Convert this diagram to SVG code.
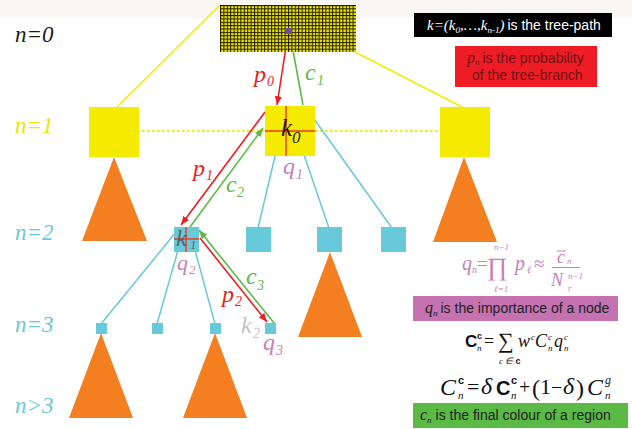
<svg xmlns="http://www.w3.org/2000/svg" width="632" height="429" viewBox="0 0 632 429">
<style>
.lv{font-family:"Liberation Serif",serif;font-style:italic;font-size:23px}
.it{font-family:"Liberation Serif",serif;font-style:italic}
.sr{font-family:"Liberation Serif","DejaVu Serif",serif}
.sa{font-family:"Liberation Sans",Arial,sans-serif;font-size:14px}
.sb{font-family:"Liberation Sans",Arial,sans-serif;font-weight:bold}
.yel{fill:#f4eb00}
.org{fill:#f47f20}
.cy{fill:#68c9da}
.cyl{stroke:#68c9da;stroke-width:1.5;fill:none}
.rd{stroke:#ee1d24;stroke-width:1.6;fill:none}
.gr{stroke:#5cb947;stroke-width:1.6;fill:none}
.cross{stroke:#ee3a24;stroke-width:1.5}
.pk{fill:#c87fb9}
</style>
<defs>
<pattern id="mesh" x="220" y="5" width="3.4" height="3.36" patternUnits="userSpaceOnUse">
<rect width="3.4" height="3.36" fill="#f3e800"/>
<rect width="1" height="3.36" fill="#1c1a00"/>
<rect width="3.4" height="1" fill="#1c1a00"/>
</pattern>
<marker id="ar" viewBox="0 0 10 8" refX="10" refY="4" markerWidth="9" markerHeight="7" orient="auto" markerUnits="userSpaceOnUse"><path d="M0,0 L10,4 L0,8 Z" fill="#ee1d24"/></marker>
<marker id="ag" viewBox="0 0 10 8" refX="10" refY="4" markerWidth="9" markerHeight="7" orient="auto" markerUnits="userSpaceOnUse"><path d="M0,0 L10,4 L0,8 Z" fill="#5cb947"/></marker>
</defs>
<rect x="0" y="0" width="632" height="18" fill="#f8f7f3"/>

<g id="levels">
<text class="lv" x="15" y="42" fill="#1a1a1a">n=0</text>
<text class="lv" x="15" y="133" fill="#efe200">n=1</text>
<text class="lv" x="15" y="240" fill="#68c9da">n=2</text>
<text class="lv" x="15" y="332" fill="#68c9da">n=3</text>
<text class="lv" x="15" y="413" fill="#68c9da">n&gt;3</text>
</g>

<g id="connectors">
<line x1="220" y1="5" x2="117" y2="107" stroke="#f4eb00" stroke-width="1.5"/>
<line x1="355" y1="52" x2="462" y2="107" stroke="#f4eb00" stroke-width="1.5"/>
<line x1="142" y1="131" x2="265" y2="131" stroke="#f4eb00" stroke-width="2" stroke-dasharray="2.5,2.5"/>
<line x1="315" y1="131" x2="440" y2="131" stroke="#f4eb00" stroke-width="2" stroke-dasharray="2.5,2.5"/>
<line class="cyl" x1="276" y1="152" x2="258" y2="228"/>
<line class="cyl" x1="303" y1="152" x2="329" y2="228"/>
<line class="cyl" x1="312" y1="116" x2="392" y2="228"/>
<line class="cyl" x1="176" y1="232" x2="101" y2="324"/>
<line class="cyl" x1="178" y1="250" x2="157" y2="324"/>
<line class="cyl" x1="195" y1="250" x2="215" y2="324"/>
<line class="rd" x1="288" y1="34" x2="277" y2="105" marker-end="url(#ar)"/>
<line class="gr" x1="303" y1="105" x2="290" y2="34" marker-end="url(#ag)"/>
<line class="rd" x1="265" y1="112" x2="181" y2="225" marker-end="url(#ar)"/>
<line class="gr" x1="190" y1="227" x2="263" y2="128" marker-end="url(#ag)"/>
<line class="rd" x1="200" y1="238" x2="267" y2="322" marker-end="url(#ar)"/>
<line class="gr" x1="274" y1="323" x2="199" y2="230" marker-end="url(#ag)"/>
</g>

<g id="root">
<rect x="220" y="5" width="136" height="47" fill="url(#mesh)"/>
<rect x="285" y="28" width="7" height="6" fill="#6a4fa0"/>
</g>

<g id="n1-left"><rect class="yel" x="89" y="107" width="50" height="50"/><path class="org" d="M114,157 L147,241 L82,241 Z"/></g>
<g id="n1-mid">
<rect class="yel" x="265" y="106" width="50" height="50"/>
<line class="cross" x1="265" y1="131" x2="315" y2="131"/>
<line class="cross" x1="286" y1="106" x2="286" y2="156"/>
<text class="it" x="281" y="136" font-size="25" fill="#1a1a1a">k<tspan x="292" y="143" font-size="17">0</tspan></text>
</g>
<g id="n1-right"><rect class="yel" x="440" y="107" width="50" height="50"/><path class="org" d="M464,157 L497,242 L433,242 Z"/></g>

<g id="n2-k1">
<rect class="cy" x="174" y="227" width="25" height="25"/>
<line class="cross" x1="174" y1="239" x2="199" y2="239"/>
<line class="cross" x1="186" y1="227" x2="186" y2="252"/>
<text class="it" x="176" y="246" font-size="24" fill="#555" fill-opacity="0.85">k<tspan x="190" y="249" font-size="13">1</tspan></text>
</g>
<g id="n2-b"><rect class="cy" x="246" y="227" width="25" height="25"/></g>
<g id="n2-c"><rect class="cy" x="317" y="227" width="25" height="25"/><path class="org" d="M330,252 L362,337 L298,337 Z"/></g>
<g id="n2-d"><rect class="cy" x="381" y="227" width="25" height="25"/></g>

<g id="n3-a"><rect class="cy" x="96" y="323" width="11" height="11"/><path class="org" d="M101,333 L133,418 L69,418 Z"/></g>
<g id="n3-b"><rect class="cy" x="152" y="323" width="11" height="11"/></g>
<g id="n3-c"><rect class="cy" x="210" y="323" width="11" height="11"/><path class="org" d="M215,333 L247,418 L183,418 Z"/></g>
<g id="n3-k2"><rect class="cy" x="265" y="323" width="11" height="11"/></g>

<g id="labels">
<text class="it" x="254" y="82" font-size="24" fill="#ee1d24">p<tspan x="267" y="86" font-size="14">0</tspan></text>
<text class="it" x="305" y="80" font-size="24" fill="#5cb947">c<tspan x="317" y="85" font-size="14">1</tspan></text>
<text class="it" x="283" y="174" font-size="24" fill="#c87fb9">q<tspan x="296" y="179" font-size="14">1</tspan></text>
<text class="it" x="193" y="176" font-size="24" fill="#ee1d24">p<tspan x="206" y="180" font-size="14">1</tspan></text>
<text class="it" x="226" y="192" font-size="24" fill="#5cb947">c<tspan x="237" y="197" font-size="14">2</tspan></text>
<text class="it" x="177" y="270" font-size="22" fill="#c87fb9">q<tspan x="189" y="274" font-size="13">2</tspan></text>
<text class="it" x="246" y="284" font-size="24" fill="#5cb947">c<tspan x="257" y="290" font-size="14">3</tspan></text>
<text class="it" x="222" y="302" font-size="24" fill="#ee1d24">p<tspan x="235" y="306" font-size="14">2</tspan></text>
<text class="it" x="241" y="333" font-size="24" fill="#c4c4c4">k<tspan x="253" y="338" font-size="14">2</tspan></text>
<text class="it" x="263" y="350" font-size="24" fill="#c87fb9">q<tspan x="276" y="355" font-size="14">3</tspan></text>
</g>

<g id="legend-path">
<rect x="414" y="13" width="198" height="24" fill="#000"/>
<text x="427" y="30" fill="#fff"><tspan class="it" font-size="15">k=(k</tspan><tspan class="it" font-size="9" dy="3">0</tspan><tspan class="it" font-size="15" dy="-3">,…,k</tspan><tspan class="it" font-size="9" dy="3">n-1</tspan><tspan class="it" font-size="15" dy="-3">)</tspan><tspan class="sa" dx="3">is the tree-path</tspan></text>
</g>
<g id="legend-prob">
<rect x="455" y="46" width="142" height="41" fill="#ee1c25"/>
<text x="467" y="63" fill="#6e1418"><tspan class="it" font-size="16">p</tspan><tspan class="it" font-size="9" dy="2">n</tspan><tspan class="sa" dx="3" dy="-2">is the probability</tspan><tspan class="sa" x="472" y="80">of the tree-branch</tspan></text>
</g>

<g id="formula-q" class="pk">
<text class="it" x="462" y="270" font-size="20">q</text>
<text class="it" x="472" y="273" font-size="10">n</text>
<text class="sr" x="477" y="270" font-size="19">=</text>
<text class="sr" x="487" y="275" font-size="25">∏</text>
<text class="it" x="494" y="250" font-size="9">n−1</text>
<text class="it" x="494" y="292" font-size="9">ℓ=1</text>
<text class="it" x="515" y="270" font-size="20">p</text>
<text class="it" x="527" y="273" font-size="10">ℓ</text>
<text class="sr" x="534" y="270" font-size="19">≈</text>
<text class="it" x="557" y="263" font-size="18">c</text>
<line x1="557" y1="251" x2="566" y2="251" stroke="#c87fb9" stroke-width="1"/>
<text class="it" x="567" y="264" font-size="9">n</text>
<line x1="552" y1="267.5" x2="580" y2="267.5" stroke="#c87fb9" stroke-width="1"/>
<text class="it" x="551" y="286" font-size="18">N</text>
<text class="it" x="568" y="279" font-size="9">n−1</text>
<text class="it" x="568" y="291" font-size="9">r</text>
</g>
<g id="legend-imp">
<rect x="413" y="296" width="205" height="25" fill="#c472b0"/>
<text x="425" y="313" fill="#222"><tspan class="it" font-size="16">q</tspan><tspan class="it" font-size="9" dy="3">n</tspan><tspan class="sa" dx="3" dy="-3">is the importance of a node</tspan></text>
</g>

<g id="formula-c" fill="#111">
<text class="sb" x="465" y="347" font-size="17">C</text>
<text class="sb" x="477" y="339" font-size="9">c</text>
<text class="it" x="477" y="351" font-size="9">n</text>
<text class="sr" x="484" y="347" font-size="18">=</text>
<text class="sr" x="498" y="348" font-size="22">∑</text>
<text class="it" x="499" y="364" font-size="9">c ∈ <tspan class="sb" font-style="normal">c</tspan></text>
<text class="it" x="518" y="347" font-size="18">w</text>
<text class="it" x="531" y="340" font-size="9">c</text>
<text class="it" x="535" y="347" font-size="18">C</text>
<text class="it" x="548" y="340" font-size="9">c</text>
<text class="it" x="548" y="351" font-size="9">n</text>
<text class="it" x="554" y="347" font-size="18">q</text>
<text class="it" x="564" y="340" font-size="9">c</text>
<text class="it" x="564" y="351" font-size="9">n</text>

<text class="it" x="440" y="395" font-size="24">C</text>
<text class="sb" x="458" y="384" font-size="11">c</text>
<text class="it" x="458" y="399" font-size="11">n</text>
<text class="sr" x="467" y="394" font-size="22">=</text>
<text class="it" x="481" y="394" font-size="24">δ</text>
<text class="sb" x="496" y="395" font-size="20">C</text>
<text class="sb" x="511" y="384" font-size="11">c</text>
<text class="it" x="511" y="399" font-size="11">n</text>
<text class="sr" x="519" y="394" font-size="20">+</text>
<text class="sr" x="532" y="396" font-size="24">(</text>
<text class="sr" x="540" y="394" font-size="22">1</text>
<text class="sr" x="551" y="394" font-size="20">−</text>
<text class="it" x="563" y="394" font-size="24">δ</text>
<text class="sr" x="576" y="396" font-size="24">)</text>
<text class="it" x="587" y="395" font-size="24">C</text>
<text class="it" x="605" y="384" font-size="12">g</text>
<text class="it" x="605" y="399" font-size="11">n</text>
</g>

<g id="legend-colour">
<rect x="413" y="403" width="215" height="25" fill="#5bb946"/>
<text x="420" y="420" fill="#222"><tspan class="it" font-size="16">c</tspan><tspan class="it" font-size="9" dy="3">n</tspan><tspan class="sa" dx="4" dy="-3">is the final colour of a region</tspan></text>
</g>
</svg>
